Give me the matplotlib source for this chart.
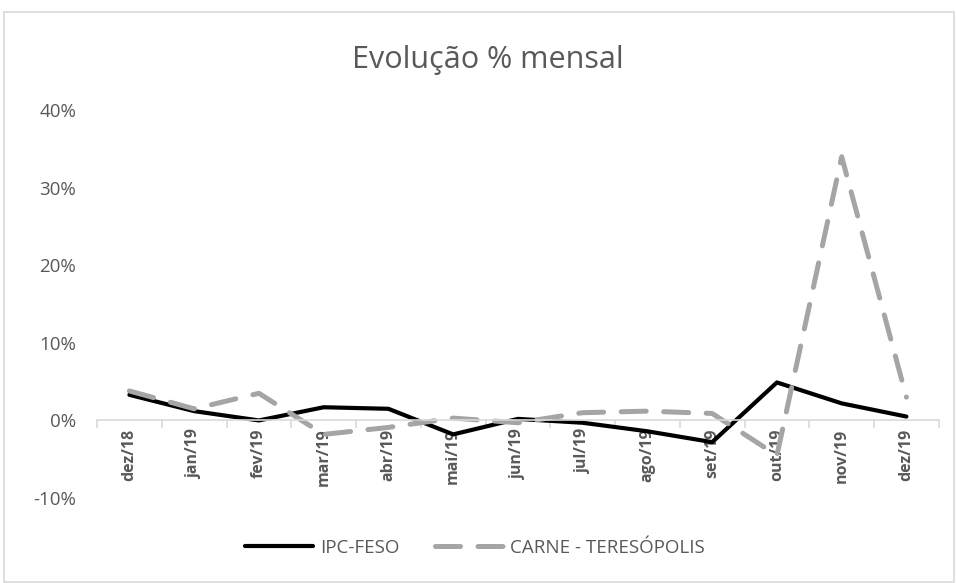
import matplotlib.pyplot as plt
from matplotlib.ticker import PercentFormatter
from matplotlib.patches import Rectangle

plt.rcParams['font.family'] = ['Open Sans', 'DejaVu Sans']
plt.rcParams['axes.unicode_minus'] = False

# Dados
meses = ['dez/18', 'jan/19', 'fev/19', 'mar/19', 'abr/19', 'mai/19', 'jun/19',
         'jul/19', 'ago/19', 'set/19', 'out/19', 'nov/19', 'dez/19']
ipc_feso = [3.3, 1.2, 0.0, 1.7, 1.5, -1.8, 0.2, -0.3, -1.4, -2.8, 4.9, 2.2, 0.5]
carne = [3.8, 1.5, 3.5, -1.8, -0.9, 0.3, -0.3, 1.0, 1.2, 0.9, -4.5, 34.0, 3.0]

x = list(range(len(meses)))

fig = plt.figure(figsize=(9.56, 5.83), dpi=100)
ax = fig.add_axes([0.1015, 0.1458, 0.8805, 0.6652])

# moldura do gráfico (estilo Excel)
fig.patches.append(Rectangle((4 / 956, 0.002), 1 - 6 / 956, 1 - 12 / 583 - 0.002,
                             transform=fig.transFigure, fill=False,
                             edgecolor='#d9d9d9', linewidth=1.2))

ax.plot(x, ipc_feso, color='black', linewidth=3.0, label='IPC-FESO',
        solid_capstyle='round', solid_joinstyle='round')
ax.plot(x, carne, color='#a5a5a5', linewidth=3.6, linestyle=(0, (5, 3.5)),
        label='CARNE - TERESÓPOLIS', dash_capstyle='round')

ax.set_xlim(-0.5, len(meses) - 0.5)
ax.set_ylim(-10, 40)
ax.set_yticks([-10, 0, 10, 20, 30, 40])
ax.yaxis.set_major_formatter(PercentFormatter(decimals=0))

for s in ['top', 'right', 'left']:
    ax.spines[s].set_visible(False)
ax.spines['bottom'].set_position(('data', 0))
ax.spines['bottom'].set_color('#d9d9d9')
ax.spines['bottom'].set_linewidth(1.2)

ax.set_xticks(x)
ax.set_xticklabels(meses, rotation=90, fontsize=11.5, color='#595959', fontweight='bold')
ax.set_xticks([i - 0.5 for i in range(len(meses) + 1)], minor=True)
ax.tick_params(axis='x', which='major', length=0, pad=6)
ax.tick_params(axis='x', which='minor', length=6, color='#d9d9d9', width=1.2)
ax.tick_params(axis='y', length=0, labelsize=13.5, labelcolor='#595959', pad=15)

fig.text(0.51, 0.897, 'Evolução % mensal', ha='center', va='center',
         fontsize=22, color='#595959')

fig.legend(loc='center', bbox_to_anchor=(0.497, 0.06), ncol=2, frameon=False,
           fontsize=13.5, labelcolor='#595959', handlelength=3.6, columnspacing=1.9,
           handletextpad=0.4)

fig.savefig('out.png', dpi=100)
